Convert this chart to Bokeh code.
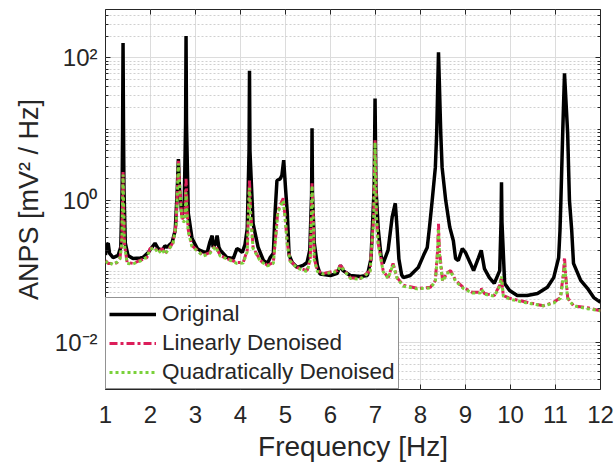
from bokeh.plotting import figure
from bokeh.models import (FixedTicker, LinearAxis, LogAxis, CustomJSTickFormatter, Legend,
                          LegendItem, CustomLabelingPolicy)
from bokeh.embed import file_html
from bokeh.resources import INLINE

# ---------------- data ----------------
f_orig = [1.00, 1.03, 1.06, 1.09, 1.17, 1.28, 1.34, 1.37, 1.38, 1.39,
          1.40, 1.41, 1.44, 1.50, 1.61, 1.77, 1.83, 1.95, 2.03, 2.10,
          2.17, 2.26, 2.32, 2.37, 2.43, 2.48, 2.55, 2.59, 2.62, 2.65,
          2.70, 2.75, 2.78, 2.79, 2.80, 2.84, 2.92, 2.95, 3.04, 3.10,
          3.17, 3.26, 3.32, 3.37, 3.39, 3.44, 3.48, 3.52, 3.55, 3.70,
          3.84, 3.92, 3.98, 4.04, 4.10, 4.15, 4.19, 4.20, 4.21, 4.28,
          4.39, 4.51, 4.60, 4.66, 4.73, 4.77, 4.81, 4.88, 4.92, 4.96,
          5.00, 5.04, 5.08, 5.15, 5.26, 5.39, 5.48, 5.54, 5.58, 5.59,
          5.60, 5.64, 5.71, 5.77, 6.00, 6.15, 6.22, 6.28, 6.44, 6.66,
          6.82, 6.90, 6.97, 6.99, 7.01, 7.06, 7.12, 7.17, 7.28, 7.37,
          7.44, 7.48, 7.52, 7.58, 7.62, 7.77, 7.95, 8.07, 8.15, 8.20,
          8.26, 8.33, 8.36, 8.40, 8.45, 8.48, 8.56, 8.65, 8.73, 8.78,
          8.84, 8.93, 9.00, 9.11, 9.18, 9.29, 9.35, 9.42, 9.53, 9.64,
          9.76, 9.79, 9.80, 9.81, 9.87, 9.98, 10.15, 10.37, 10.60, 10.82,
          10.96, 11.07, 11.10, 11.12, 11.16, 11.20, 11.27, 11.31, 11.36, 11.40,
          11.56, 11.71, 11.85, 12.00]
v_orig = [0.17, 0.24, 0.25, 0.18, 0.157, 0.168, 0.22, 1.5, 10, 162,
          10, 1.5, 0.25, 0.168, 0.152, 0.155, 0.157, 0.185, 0.218, 0.25,
          0.21, 0.198, 0.23, 0.218, 0.24, 0.256, 0.38, 1.2, 3.8, 1.2,
          0.62, 0.9, 12, 204, 12, 0.66, 0.3, 0.27, 0.21, 0.198,
          0.19, 0.185, 0.26, 0.32, 0.22, 0.24, 0.32, 0.22, 0.2, 0.157,
          0.152, 0.21, 0.2, 0.185, 0.24, 0.4, 5, 66, 5, 0.47,
          0.22, 0.143, 0.13, 0.157, 0.18, 0.7, 1.9, 2.0, 2.25, 3.66,
          1.5, 0.66, 0.17, 0.134, 0.114, 0.122, 0.134, 0.2, 1.2, 10.3,
          1.2, 0.25, 0.12, 0.092, 0.088, 0.094, 0.122, 0.103, 0.088, 0.085,
          0.088, 0.15, 1.5, 27, 1.5, 0.4, 0.17, 0.13, 0.2, 0.58,
          0.91, 0.4, 0.15, 0.09, 0.082, 0.088, 0.114, 0.17, 0.218, 0.42,
          1.0, 2.9, 8.8, 120, 8.8, 2.9, 1.0, 0.42, 0.27, 0.152,
          0.143, 0.21, 0.185, 0.13, 0.103, 0.157, 0.198, 0.11, 0.082, 0.068,
          0.103, 0.5, 1.8, 0.5, 0.068, 0.054, 0.046, 0.046, 0.049, 0.06,
          0.082, 0.157, 0.38, 1.0, 8.8, 61, 8.8, 1.0, 0.38, 0.13,
          0.075, 0.058, 0.043, 0.037]

f_den = [1.00, 1.06, 1.10, 1.17, 1.26, 1.32, 1.36, 1.38, 1.39, 1.40,
         1.42, 1.48, 1.61, 1.77, 1.92, 1.99, 2.10, 2.17, 2.26, 2.32,
         2.43, 2.50, 2.57, 2.60, 2.62, 2.65, 2.70, 2.76, 2.79, 2.82,
         2.84, 2.92, 3.04, 3.17, 3.32, 3.44, 3.55, 3.70, 3.92, 4.06,
         4.15, 4.18, 4.20, 4.22, 4.28, 4.44, 4.60, 4.73, 4.78, 4.83,
         4.95, 4.99, 5.04, 5.10, 5.26, 5.48, 5.55, 5.58, 5.59, 5.61,
         5.64, 5.71, 5.84, 6.15, 6.22, 6.28, 6.44, 6.66, 6.88, 6.96,
         6.99, 7.02, 7.06, 7.17, 7.28, 7.39, 7.48, 7.62, 7.93, 8.22,
         8.33, 8.38, 8.40, 8.42, 8.49, 8.60, 8.67, 8.78, 8.95, 9.15,
         9.33, 9.36, 9.42, 9.64, 9.76, 9.80, 9.84, 9.98, 10.37, 10.73,
         10.96, 11.11, 11.18, 11.20, 11.22, 11.27, 11.40, 11.71, 12.00]
v_lin = [0.143, 0.13, 0.13, 0.128, 0.134, 0.152, 0.25, 1.0, 2.5, 1.0,
         0.25, 0.134, 0.13, 0.143, 0.157, 0.211, 0.218, 0.185, 0.211, 0.179,
         0.218, 0.256, 0.47, 1.5, 3.6, 1.5, 0.55, 0.6, 2.0, 0.6,
         0.38, 0.232, 0.198, 0.168, 0.185, 0.232, 0.168, 0.152, 0.134, 0.134,
         0.2, 0.8, 1.9, 0.8, 0.218, 0.143, 0.122, 0.134, 0.3, 0.72,
         1.07, 0.6, 0.25, 0.143, 0.114, 0.103, 0.15, 0.8, 1.73, 0.8,
         0.15, 0.103, 0.094, 0.103, 0.122, 0.11, 0.082, 0.08, 0.103, 0.6,
         7.0, 0.6, 0.25, 0.103, 0.082, 0.13, 0.082, 0.064, 0.058, 0.06,
         0.075, 0.2, 0.47, 0.2, 0.075, 0.097, 0.103, 0.075, 0.06, 0.051,
         0.051, 0.058, 0.049, 0.046, 0.064, 0.082, 0.046, 0.042, 0.037, 0.033,
         0.037, 0.043, 0.1, 0.158, 0.1, 0.043, 0.033, 0.031, 0.028]
v_quad = [0.14, 0.128, 0.132, 0.125, 0.136, 0.15, 0.24, 0.95, 2.3, 0.95,
          0.24, 0.13, 0.128, 0.14, 0.16, 0.205, 0.215, 0.18, 0.205, 0.175,
          0.215, 0.25, 0.45, 1.4, 3.3, 1.4, 0.52, 0.5, 1.3, 0.5,
          0.36, 0.225, 0.195, 0.165, 0.18, 0.225, 0.165, 0.15, 0.13, 0.132,
          0.19, 0.7, 1.5, 0.7, 0.21, 0.14, 0.12, 0.13, 0.29, 0.68,
          1.0, 0.58, 0.24, 0.14, 0.112, 0.1, 0.145, 0.75, 1.6, 0.75,
          0.145, 0.1, 0.092, 0.1, 0.118, 0.108, 0.08, 0.078, 0.1, 0.55,
          6.5, 0.55, 0.24, 0.1, 0.08, 0.125, 0.08, 0.062, 0.057, 0.059,
          0.072, 0.18, 0.4, 0.18, 0.073, 0.095, 0.1, 0.073, 0.058, 0.05,
          0.05, 0.056, 0.048, 0.045, 0.062, 0.085, 0.045, 0.041, 0.036, 0.033,
          0.036, 0.042, 0.09, 0.13, 0.09, 0.042, 0.033, 0.03, 0.028]

x_ticks = [1, 2, 3, 4, 5, 6, 7, 8, 9, 10, 11, 12]
y_ticks = [0.01, 1, 100]
y_minor = [m * 10.0 ** k for k in range(-3, 3) for m in range(1, 10)
           if m * 10.0 ** k not in (0.01, 1, 100)]

series_names = ["Original", "Linearly Denoised", "Quadratically Denoised"]

# ---------------- figure ----------------
FONT = "Liberation Sans"
TXT = "#262626"

p = figure(width=616, height=467, y_axis_type="log",
           x_range=(1, 12), y_range=(0.0022, 480),
           output_backend="svg", toolbar_location=None,
           min_border_left=105, min_border_right=16,
           min_border_top=9, min_border_bottom=78)
p.background_fill_color = "white"
p.border_fill_color = "white"
p.outline_line_color = TXT
p.outline_line_width = 1

yt = FixedTicker(ticks=y_ticks, minor_ticks=y_minor)
xt = FixedTicker(ticks=x_ticks)
p.xaxis.ticker = xt
p.yaxis.ticker = yt
p.yaxis.formatter = CustomJSTickFormatter(code="""
const e = Math.round(Math.log10(tick));
const sup = {'-':'\u207b','0':'\u2070','1':'\u00b9','2':'\u00b2','3':'\u00b3',
             '4':'\u2074','5':'\u2075','6':'\u2076','7':'\u2077','8':'\u2078','9':'\u2079'};
return '10' + String(e).split('').map(c => sup[c]).join('');
""")

for ax in (p.xaxis[0], p.yaxis[0]):
    ax.axis_line_color = None
    ax.major_tick_in = 5
    ax.major_tick_out = 0
    ax.minor_tick_in = 3
    ax.minor_tick_out = 0
    ax.major_tick_line_color = TXT
    ax.minor_tick_line_color = TXT
    ax.major_label_text_font = FONT
    ax.major_label_text_font_size = "24px"
    ax.major_label_text_color = TXT
    ax.axis_label_text_font = FONT
    ax.axis_label_text_font_size = "27px"
    ax.axis_label_text_font_style = "normal"
    ax.axis_label_text_color = TXT
p.xaxis.minor_tick_line_color = None
p.xaxis.axis_label = "Frequency [Hz]"
p.yaxis.axis_label = "ANPS [mV\u00b2 / Hz]"
p.xaxis.axis_label_text_font_size = "28px"
p.xaxis.major_label_standoff = 16
p.xaxis.axis_label_standoff = 5
p.yaxis.major_label_standoff = 8
p.yaxis.axis_label_standoff = 8

# mirrored ticks on top and right (labels suppressed)
top = LinearAxis(ticker=xt, axis_line_color=None, major_tick_in=5, major_tick_out=0,
                 minor_tick_line_color=None, major_tick_line_color=TXT,
                 major_label_policy=CustomLabelingPolicy(code="return new Set()"),
                 major_label_standoff=0, major_label_text_font_size="1px")
right = LogAxis(ticker=yt, axis_line_color=None, major_tick_in=5, major_tick_out=0,
                minor_tick_in=3, minor_tick_out=0, major_tick_line_color=TXT,
                minor_tick_line_color=TXT,
                major_label_policy=CustomLabelingPolicy(code="return new Set()"),
                major_label_standoff=0, major_label_text_font_size="1px")
p.add_layout(top, "above")
p.add_layout(right, "right")

# grids
p.xgrid.grid_line_color = "#DCDCDC"
p.ygrid.grid_line_color = "#DCDCDC"
p.ygrid.minor_grid_line_color = "#D0D0D0"
p.ygrid.minor_grid_line_dash = "2 2"
p.ygrid.minor_grid_line_width = 1

# lines
r0 = p.line(f_orig, v_orig, line_color="black", line_width=3.5)
r1 = p.line(f_den, v_lin, line_color="#DC1E5A", line_width=3, line_dash="8 3 3 3")
r2 = p.line(f_den, v_quad, line_color="#7AD13A", line_width=3, line_dash="3 3")

legend = Legend(items=[LegendItem(label=series_names[0], renderers=[r0]),
                       LegendItem(label=series_names[1], renderers=[r1]),
                       LegendItem(label=series_names[2], renderers=[r2])],
                location="bottom_left", margin=0, padding=3, spacing=3,
                glyph_width=47, glyph_height=24, label_height=24,
                label_standoff=6,
                label_text_font=FONT, label_text_font_size="22.5px",
                label_text_color=TXT,
                border_line_color=TXT, border_line_width=1,
                background_fill_color="white", background_fill_alpha=1)
p.add_layout(legend)

open("out.html", "w").write(file_html(p, INLINE))
